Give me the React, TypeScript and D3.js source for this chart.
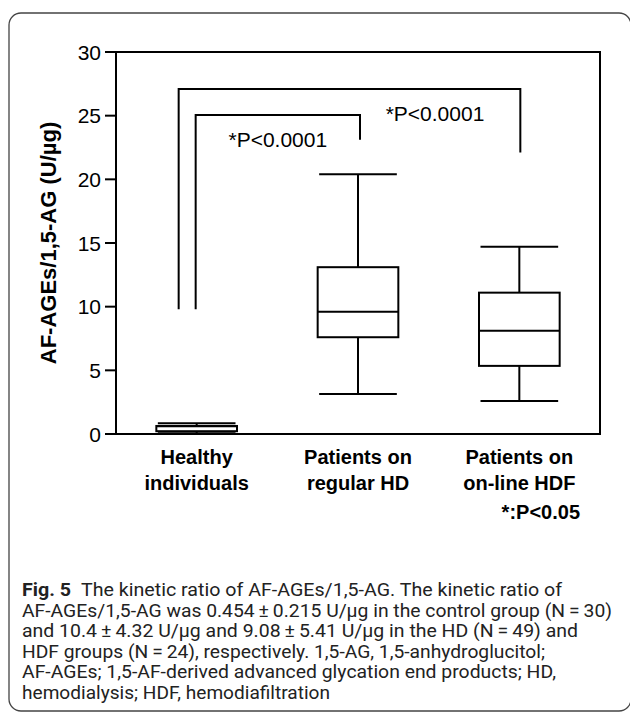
import React from 'react';
import * as d3 from 'd3';

// ---- data ----
const categories = ['Healthy individuals', 'Patients on regular HD', 'Patients on on-line HDF'];
const categoryLines = [['Healthy', 'individuals'], ['Patients on', 'regular HD'], ['Patients on', 'on-line HDF']];
const whiskerLow = [0.05, 3.15, 2.6];
const q1 = [0.22, 7.6, 5.35];
const median = [0.6, 9.6, 8.1];
const q3 = [0.63, 13.1, 11.1];
const whiskerHigh = [0.85, 20.4, 14.7];
const yTicks = [0, 5, 10, 15, 20, 25, 30];
const yLabel = 'AF-AGEs/1,5-AG (U/µg)';
const sigNote = '*:P<0.05';
const comparisons = [
  { from: 0, to: 1, level: 25.05, leftEnd: 9.8, rightEnd: 23.1, label: '*P<0.0001' },
  { from: 0, to: 2, level: 27.1, leftEnd: 9.8, rightEnd: 22.1, label: '*P<0.0001' },
];
const captionBold = 'Fig. 5';
const captionLines = [
  'The kinetic ratio of AF-AGEs/1,5-AG. The kinetic ratio of',
  'AF-AGEs/1,5-AG was 0.454\u2009±\u20090.215 U/µg in the control group (N\u2009=\u200930)',
  'and 10.4\u2009±\u20094.32 U/µg and 9.08\u2009±\u20095.41 U/µg in the HD (N\u2009=\u200949) and',
  'HDF groups (N\u2009=\u200924), respectively. 1,5-AG, 1,5-anhydroglucitol;',
  'AF-AGEs; 1,5-AF-derived advanced glycation end products; HD,',
  'hemodialysis; HDF, hemodiafiltration',
];

// ---- layout ----
const W = 630, H = 714;
const plot = { left: 116, right: 600, top: 52, bottom: 434 };
const FONT = 'Arial, "Liberation Sans", Helvetica, sans-serif';
const CAP_FONT = 'Roboto, "Noto Sans", sans-serif';
const captionWidths = [540, 590, 556, 523, 534, 308];

export default function App() {
  const x = d3.scaleBand<number>().domain(categories.map((_, i) => i)).range([plot.left, plot.right]).padding(0);
  const y = d3.scaleLinear().domain([0, 30]).range([plot.bottom, plot.top]);
  const cx = (i: number) => (x(i) as number) + x.bandwidth() / 2;
  const boxW = x.bandwidth() * 0.5;
  const capW = boxW - 3;
  const sw = 2;

  const bracketOffsets = [[-1, 2], [-18, 1]];
  const labelPos = [
    { dx: 0, v: 22.55 },
    { dx: 77, v: 24.55 },
  ];

  return (
    <svg width={W} height={H} style={{ position: 'absolute', left: 0, top: 0, background: '#fff' }}>
      <rect x={9} y={13} width={622} height={698} rx={12} fill="none" stroke="#444" strokeWidth={1.3} />
      {/* frame */}
      <rect x={plot.left} y={plot.top} width={plot.right - plot.left} height={plot.bottom - plot.top}
        fill="none" stroke="#000" strokeWidth={sw} />
      {/* y ticks */}
      {yTicks.map(t => (
        <g key={t}>
          <line x1={plot.left - 11} x2={plot.left} y1={y(t)} y2={y(t)} stroke="#000" strokeWidth={sw} />
          <text x={plot.left - 15} y={y(t)} dy="0.36em" textAnchor="end" fontFamily={FONT} fontSize={21}>{t}</text>
        </g>
      ))}
      <text transform={`translate(48,${y(15)}) rotate(-90)`} textAnchor="middle" dy="0.36em"
        fontFamily={FONT} fontSize={22} fontWeight="bold">{yLabel}</text>
      {/* boxes */}
      {categories.map((c, i) => {
        const m = cx(i);
        return (
          <g key={c} stroke="#000" strokeWidth={sw} fill="none">
            <line x1={m} x2={m} y1={y(whiskerHigh[i])} y2={y(q3[i])} />
            <line x1={m} x2={m} y1={y(q1[i])} y2={y(whiskerLow[i])} />
            <line x1={m - capW / 2} x2={m + capW / 2} y1={y(whiskerHigh[i])} y2={y(whiskerHigh[i])} />
            <line x1={m - capW / 2} x2={m + capW / 2} y1={y(whiskerLow[i])} y2={y(whiskerLow[i])} />
            <rect x={m - boxW / 2} y={y(q3[i])} width={boxW} height={y(q1[i]) - y(q3[i])} fill="#fff" />
            <line x1={m - boxW / 2} x2={m + boxW / 2} y1={y(median[i])} y2={y(median[i])} />
          </g>
        );
      })}
      {/* brackets */}
      {comparisons.map((c, k) => {
        const xl = cx(c.from) + bracketOffsets[k][0];
        const xr = cx(c.to) + bracketOffsets[k][1];
        const d = d3.path();
        d.moveTo(xl, y(c.leftEnd));
        d.lineTo(xl, y(c.level));
        d.lineTo(xr, y(c.level));
        d.lineTo(xr, y(c.rightEnd));
        const lx = k === 0 ? (xl + xr) / 2 : cx(1) + labelPos[k].dx;
        return (
          <g key={k}>
            <path d={d.toString()} fill="none" stroke="#000" strokeWidth={sw} />
            <text x={lx} y={y(labelPos[k].v)} textAnchor="middle" fontFamily={FONT} fontSize={21}>{c.label}</text>
          </g>
        );
      })}
      {/* category labels */}
      {categoryLines.map((lines, i) => (
        <text key={i} x={cx(i)} y={464} textAnchor="middle" fontFamily={FONT} fontSize={20} fontWeight="bold">
          {lines.map((l, j) => (
            <tspan key={j} x={cx(i)} dy={j === 0 ? 0 : 26}>{l}</tspan>
          ))}
        </text>
      ))}
      <text x={580} y={519} textAnchor="end" fontFamily={FONT} fontSize={20} fontWeight="bold">{sigNote}</text>
      {/* caption */}
      <g fontFamily={CAP_FONT} fontSize={17.5} fill="#222">
        {captionLines.map((l, i) => (
          <text key={i} x={22} y={596 + i * 20.6} textLength={captionWidths[i]} lengthAdjust="spacingAndGlyphs">
            {i === 0 ? <><tspan fontWeight="bold">{captionBold}</tspan>{'\u2002' + l}</> : l}
          </text>
        ))}
      </g>
    </svg>
  );
}
